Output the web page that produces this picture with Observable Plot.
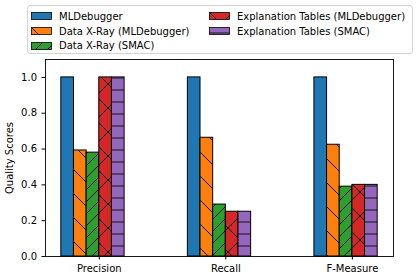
<!DOCTYPE html>
<html><head><meta charset="utf-8">
<script src="https://cdn.jsdelivr.net/npm/d3@7"></script>
<script src="https://cdn.jsdelivr.net/npm/@observablehq/plot@0.6"></script>
<style>
body{margin:0;background:#fff;font-family:"DejaVu Sans",sans-serif;}
#wrap{position:relative;width:417px;height:280px;overflow:hidden;}
#chart{position:absolute;left:0;top:0;}
#legend{position:absolute;left:27px;top:5px;width:386px;height:49px;border:1px solid #d4d4d4;border-radius:3px;background:rgba(255,255,255,0.85);box-sizing:border-box;z-index:2;}
.item{position:absolute;height:14px;display:flex;align-items:center;font-size:10px;color:#000;white-space:nowrap;}
.item svg{margin-right:7px;}
</style></head><body>
<div id="wrap"><div id="chart"></div><div id="legend"></div></div>
<script>
const categories = ["Precision", "Recall", "F-Measure"];
const seriesNames = ["MLDebugger", "Data X-Ray (MLDebugger)", "Data X-Ray (SMAC)", "Explanation Tables (MLDebugger)", "Explanation Tables (SMAC)"];
const mlDebugger = [1.0, 1.0, 1.0];
const dataXRayMLD = [0.592, 0.663, 0.624];
const dataXRaySMAC = [0.58, 0.29, 0.39];
const explTablesMLD = [1.0, 0.25, 0.40];
const explTablesSMAC = [1.0, 0.25, 0.40];
const yTicks = [0.0, 0.2, 0.4, 0.6, 0.8, 1.0];
const colors = ["#1f77b4", "#ff7f0e", "#2ca02c", "#d62728", "#9467bd"];

const seriesValues = [mlDebugger, dataXRayMLD, dataXRaySMAC, explTablesMLD, explTablesSMAC];
const barW = 0.1; // bar width in group units
const rows = [];
seriesValues.forEach((vals, si) => {
  vals.forEach((v, gi) => {
    const x1 = gi + (si - 3) * barW;
    rows.push({series: si, name: seriesNames[si], category: categories[gi], x1, x2: x1 + barW, value: v});
  });
});

const svg = Plot.plot({
  width: 417,
  height: 280,
  marginTop: 59,
  marginBottom: 24,
  marginLeft: 45,
  marginRight: 24,
  style: {fontFamily: "DejaVu Sans", fontSize: "10px", color: "#000", background: "transparent"},
  x: {type: "linear", domain: [-0.425, 2.325], ticks: [0, 1, 2], tickFormat: i => categories[i], tickSize: 3.5, tickPadding: 5, label: null},
  y: {domain: [0, 1.1], ticks: yTicks, tickFormat: d3.format(".1f"), tickSize: 3.5, tickPadding: 5, label: "Quality Scores", labelArrow: "none", labelAnchor: "center", labelOffset: 40},
  marks: [
    seriesValues.map((_, si) => Plot.rect(rows.filter(r => r.series === si), {
      x1: "x1", x2: "x2", y1: 0, y2: "value",
      fill: `url(#hatch-${si})`, stroke: "#000", strokeWidth: 1
    })),
    Plot.frame({stroke: "#000", strokeWidth: 0.9})
  ]
});

// hatch patterns
const defs = d3.select(svg).insert("defs", ":first-child");
function pattern(id, size, color, path, lineColor, lw) {
  const p = defs.append("pattern").attr("id", id).attr("patternUnits", "userSpaceOnUse")
    .attr("width", size).attr("height", size);
  p.append("rect").attr("width", size).attr("height", size).attr("fill", color);
  if (path) p.append("path").attr("d", path).attr("stroke", lineColor).attr("stroke-width", lw).attr("fill", "none");
}
pattern("hatch-0", 10, colors[0], null);
pattern("hatch-1", 24, colors[1], "M0,0L24,24M-6,18L6,30M18,-6L30,6", "#000", 1);
pattern("hatch-2", 12, colors[2], "M0,12L12,0M-3,3L3,-3M9,15L15,9", "#000", 1);
pattern("hatch-3", 24, colors[3], "M0,0L24,24M-6,18L6,30M18,-6L30,6M0,24L24,0M-6,6L6,-6M18,30L30,18", "#000", 1);
pattern("hatch-4", 12, colors[4], "M0,6H12", "#3b2a4c", 1.4);

document.getElementById("chart").appendChild(svg);

// legend
const legend = document.getElementById("legend");
const pos = [[3, 3], [3, 18], [3, 32.5], [181, 3], [181, 18]];
seriesNames.forEach((name, i) => {
  const it = document.createElement("div");
  it.className = "item";
  it.style.left = pos[i][0] + "px";
  it.style.top = pos[i][1] + "px";
  it.innerHTML = `<svg width="21" height="8"><rect x="0.5" y="0.5" width="20" height="7" fill="url(#hatch-${i})" stroke="#000" stroke-width="0.8"/></svg><span>${name}</span>`;
  legend.appendChild(it);
});
</script>
</body></html>
